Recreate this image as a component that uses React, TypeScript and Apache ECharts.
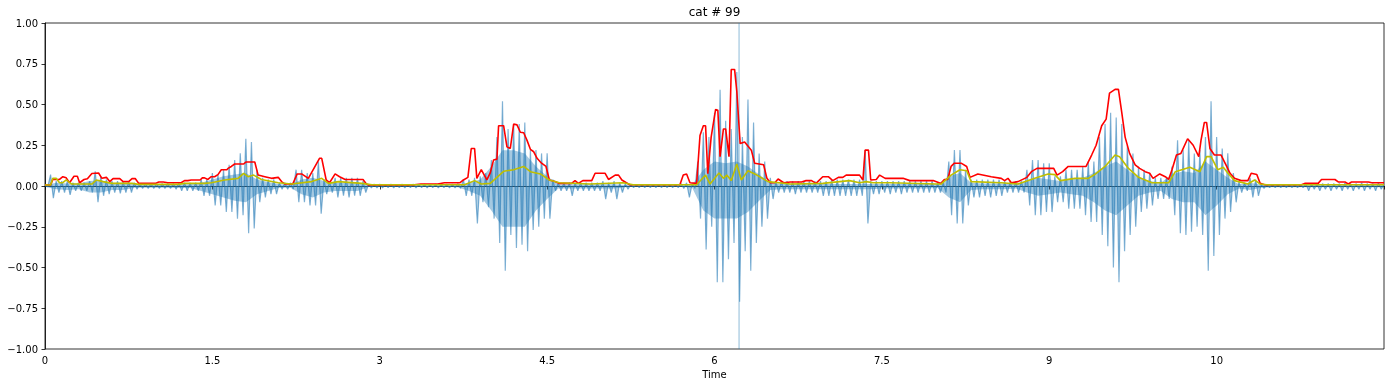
import React, { useEffect, useRef } from "react";
import * as echarts from "echarts";

const TITLE = "cat # 99";
const X_NAME = "Time";
const X_MIN = 0;
const X_MAX = 12;
const X_INTERVAL = 1.5;
const xTickLabels: Record<string, string> = {
  "0": "0", "1.5": "1.5", "3": "3", "4.5": "4.5", "6": "6", "7.5": "7.5", "9": "9", "10.5": "10", "12": "",
};
const Y_MIN = -1;
const Y_MAX = 1;
const Y_INTERVAL = 0.25;

// waveform peaks sampled every 0.05 s (upper / lower)
const WAVE_STEP = 0.05;
const waveHi = [
  0.005,0.07,0.03,0.03,0.03,0.02,0.02,0.02,0.03,0.09,0.06,0.04,0.03,0.03,0.03,0.03,0.02,0.015,0.015,0.015,
  0.015,0.015,0.015,0.015,0.02,0.02,0.02,0.02,0.04,0.04,0.08,0.07,0.1,0.13,0.16,0.2,0.29,0.27,0.1,0.05,
  0.04,0.04,0.02,0.02,0.02,0.1,0.1,0.08,0.08,0.15,0.04,0.03,0.05,0.05,0.05,0.05,0.05,0.03,0.012,0.012,
  0.012,0.01,0.012,0.01,0.012,0.01,0.012,0.01,0.012,0.01,0.012,0.01,0.012,0.012,0.015,0.04,0.04,0.05,0.06,0.08,
  0.16,0.3,0.52,0.35,0.38,0.38,0.39,0.22,0.22,0.2,0.2,0.04,0.02,0.02,0.02,0.02,0.02,0.02,0.02,0.02,
  0.03,0.02,0.03,0.02,0.015,0.01,0.01,0.01,0.01,0.01,0.01,0.01,0.01,0.01,0.015,0.02,0.015,0.15,0.33,0.3,
  0.45,0.59,0.4,0.35,0.7,0.3,0.53,0.39,0.2,0.15,0.05,0.03,0.03,0.03,0.03,0.03,0.03,0.03,0.03,0.03,
  0.03,0.04,0.04,0.04,0.04,0.04,0.04,0.22,0.03,0.03,0.03,0.03,0.03,0.03,0.03,0.03,0.03,0.03,0.03,0.03,
  0.02,0.02,0.15,0.22,0.22,0.1,0.04,0.04,0.04,0.04,0.04,0.04,0.03,0.03,0.03,0.03,0.1,0.16,0.16,0.14,
  0.14,0.06,0.06,0.1,0.1,0.1,0.12,0.15,0.15,0.3,0.38,0.45,0.42,0.38,0.25,0.2,0.12,0.1,0.08,0.05,
  0.05,0.05,0.12,0.28,0.22,0.28,0.2,0.22,0.3,0.52,0.3,0.23,0.2,0.08,0.03,0.02,0.05,0.04,0.01,0.01,
  0.01,0.01,0.01,0.01,0.01,0.01,0.015,0.015,0.015,0.015,0.015,0.015,0.015,0.02,0.015,0.015,0.02,0.015,0.015,0.02,
  0.01,
];
const waveLo = [
  -0.005,-0.075,-0.04,-0.04,-0.055,-0.03,-0.03,-0.03,-0.04,-0.1,-0.06,-0.05,-0.04,-0.045,-0.04,-0.04,-0.02,-0.015,-0.015,-0.015,
  -0.015,-0.015,-0.015,-0.02,-0.03,-0.03,-0.03,-0.03,-0.06,-0.06,-0.12,-0.12,-0.16,-0.16,-0.2,-0.18,-0.29,-0.26,-0.1,-0.07,
  -0.05,-0.05,-0.02,-0.02,-0.02,-0.1,-0.1,-0.12,-0.12,-0.17,-0.05,-0.04,-0.07,-0.06,-0.07,-0.06,-0.06,-0.04,-0.012,-0.012,
  -0.012,-0.01,-0.012,-0.01,-0.012,-0.01,-0.012,-0.01,-0.012,-0.01,-0.012,-0.01,-0.012,-0.012,-0.015,-0.06,-0.06,-0.23,-0.1,-0.13,
  -0.2,-0.35,-0.52,-0.3,-0.38,-0.36,-0.4,-0.27,-0.25,-0.2,-0.2,-0.03,-0.03,-0.03,-0.06,-0.03,-0.03,-0.03,-0.03,-0.03,
  -0.08,-0.04,-0.08,-0.04,-0.02,-0.01,-0.01,-0.01,-0.01,-0.01,-0.01,-0.01,-0.01,-0.01,-0.015,-0.07,-0.015,-0.2,-0.39,-0.25,
  -0.59,-0.59,-0.45,-0.35,-0.71,-0.4,-0.52,-0.35,-0.25,-0.2,-0.08,-0.04,-0.04,-0.04,-0.05,-0.04,-0.04,-0.04,-0.04,-0.06,
  -0.06,-0.06,-0.06,-0.06,-0.06,-0.06,-0.06,-0.23,-0.05,-0.05,-0.04,-0.05,-0.04,-0.05,-0.04,-0.04,-0.04,-0.04,-0.04,-0.04,
  -0.04,-0.04,-0.18,-0.23,-0.23,-0.12,-0.07,-0.07,-0.06,-0.07,-0.06,-0.06,-0.04,-0.04,-0.04,-0.04,-0.12,-0.18,-0.18,-0.16,
  -0.16,-0.1,-0.1,-0.14,-0.14,-0.14,-0.18,-0.22,-0.22,-0.3,-0.37,-0.5,-0.59,-0.4,-0.3,-0.25,-0.16,-0.14,-0.12,-0.08,
  -0.08,-0.08,-0.18,-0.29,-0.3,-0.28,-0.25,-0.3,-0.52,-0.43,-0.3,-0.2,-0.16,-0.1,-0.04,-0.03,-0.07,-0.06,-0.015,-0.01,
  -0.01,-0.01,-0.01,-0.01,-0.01,-0.01,-0.03,-0.02,-0.03,-0.02,-0.03,-0.02,-0.03,-0.02,-0.03,-0.02,-0.03,-0.02,-0.03,-0.02,
  -0.01,
];
// dense core of the waveform, sampled every 0.1 s (upper / lower)
const CORE_STEP = 0.1;
const coreHi = [
  0.005,0.02,0.015,0.015,0.03,0.035,0.02,0.02,0.01,0.008,
  0.008,0.008,0.01,0.01,0.02,0.04,0.06,0.07,0.08,0.04,
  0.025,0.01,0.008,0.04,0.05,0.03,0.02,0.02,0.02,0.006,
  0.005,0.005,0.005,0.005,0.005,0.005,0.005,0.006,0.02,0.04,
  0.12,0.22,0.22,0.2,0.12,0.06,0.01,0.01,0.01,0.01,
  0.01,0.01,0.006,0.005,0.005,0.005,0.005,0.005,0.008,0.1,
  0.15,0.14,0.15,0.12,0.07,0.02,0.012,0.012,0.012,0.012,
  0.012,0.012,0.012,0.012,0.012,0.012,0.012,0.012,0.012,0.012,
  0.01,0.06,0.08,0.02,0.015,0.015,0.015,0.012,0.03,0.05,
  0.04,0.03,0.04,0.05,0.08,0.12,0.15,0.1,0.05,0.03,
  0.02,0.07,0.09,0.08,0.15,0.1,0.05,0.01,0.02,0.008,
  0.006,0.006,0.006,0.006,0.006,0.006,0.006,0.006,0.006,0.006,
  0.006,
];
const coreLo = [
  -0.005,-0.02,-0.025,-0.02,-0.04,-0.04,-0.025,-0.025,-0.01,-0.01,
  -0.01,-0.01,-0.012,-0.012,-0.03,-0.05,-0.07,-0.09,-0.1,-0.05,
  -0.03,-0.01,-0.01,-0.05,-0.07,-0.04,-0.03,-0.03,-0.03,-0.006,
  -0.006,-0.006,-0.006,-0.006,-0.006,-0.006,-0.006,-0.008,-0.03,-0.06,
  -0.15,-0.25,-0.25,-0.25,-0.15,-0.08,-0.015,-0.015,-0.015,-0.015,
  -0.015,-0.015,-0.008,-0.005,-0.005,-0.005,-0.005,-0.005,-0.01,-0.15,
  -0.2,-0.2,-0.2,-0.16,-0.09,-0.025,-0.02,-0.02,-0.02,-0.02,
  -0.02,-0.02,-0.02,-0.02,-0.02,-0.015,-0.015,-0.015,-0.015,-0.015,
  -0.012,-0.07,-0.1,-0.025,-0.02,-0.02,-0.02,-0.015,-0.04,-0.06,
  -0.05,-0.04,-0.05,-0.06,-0.1,-0.15,-0.18,-0.12,-0.06,-0.04,
  -0.03,-0.08,-0.1,-0.1,-0.18,-0.12,-0.05,-0.015,-0.025,-0.01,
  -0.008,-0.008,-0.008,-0.008,-0.008,-0.008,-0.008,-0.008,-0.008,-0.008,
  -0.008,
];
// single clipped click at ~6.22 s
const clickSpike = [[6.22, -1], [6.22, 1]];

// amplitude envelope (red) [time, value]
const envelopePoints = [
  [0,0.006],[0.05,0.006],[0.07,0.04],[0.13,0.04],[0.16,0.057],[0.19,0.05],[0.22,0.02],[0.26,0.06],[0.29,0.06],[0.31,0.02],
  [0.35,0.04],[0.38,0.045],[0.42,0.077],[0.48,0.08],[0.51,0.047],[0.55,0.053],[0.58,0.027],[0.61,0.045],[0.67,0.045],[0.7,0.027],
  [0.75,0.027],[0.78,0.045],[0.81,0.045],[0.84,0.016],[0.99,0.016],[1.02,0.025],[1.06,0.025],[1.1,0.02],[1.22,0.02],[1.25,0.033],
  [1.28,0.033],[1.31,0.037],[1.39,0.037],[1.41,0.05],[1.43,0.05],[1.46,0.04],[1.49,0.057],[1.52,0.057],[1.55,0.07],[1.58,0.1],
  [1.63,0.1],[1.64,0.108],[1.67,0.12],[1.7,0.135],[1.78,0.135],[1.8,0.147],[1.88,0.147],[1.91,0.067],[1.97,0.057],[2.03,0.047],
  [2.09,0.053],[2.12,0.027],[2.15,0.012],[2.22,0.012],[2.26,0.074],[2.3,0.074],[2.36,0.047],[2.46,0.17],[2.48,0.17],[2.52,0.037],
  [2.55,0.02],[2.6,0.074],[2.64,0.057],[2.69,0.04],[2.85,0.04],[2.88,0.012],[2.9,0.006],[3.29,0.006],[3.37,0.012],[3.52,0.012],
  [3.58,0.02],[3.72,0.02],[3.75,0.037],[3.79,0.053],[3.82,0.23],[3.85,0.23],[3.87,0.047],[3.91,0.1],[3.96,0.037],[3.99,0.08],
  [4.02,0.16],[4.05,0.165],[4.065,0.37],[4.11,0.37],[4.14,0.24],[4.17,0.23],[4.2,0.38],[4.23,0.375],[4.26,0.33],[4.29,0.327],
  [4.32,0.28],[4.35,0.225],[4.38,0.21],[4.41,0.17],[4.45,0.14],[4.49,0.12],[4.52,0.037],[4.57,0.027],[4.61,0.016],[4.72,0.016],
  [4.75,0.033],[4.78,0.016],[4.82,0.033],[4.9,0.033],[4.93,0.078],[5.02,0.078],[5.05,0.04],[5.11,0.067],[5.14,0.067],[5.17,0.037],
  [5.21,0.02],[5.24,0.008],[5.69,0.008],[5.72,0.067],[5.75,0.074],[5.78,0.02],[5.84,0.016],[5.87,0.31],[5.9,0.37],[5.92,0.37],
  [5.94,0.075],[5.97,0.3],[6.01,0.47],[6.03,0.465],[6.05,0.18],[6.08,0.35],[6.1,0.35],[6.13,0.18],[6.15,0.715],[6.18,0.715],
  [6.2,0.58],[6.23,0.26],[6.27,0.27],[6.33,0.22],[6.36,0.14],[6.44,0.13],[6.47,0.047],[6.5,0.02],[6.54,0.02],[6.57,0.043],
  [6.62,0.02],[6.68,0.025],[6.78,0.025],[6.82,0.033],[6.87,0.033],[6.91,0.016],[6.97,0.057],[7.02,0.057],[7.06,0.033],[7.11,0.053],
  [7.15,0.053],[7.18,0.067],[7.3,0.067],[7.33,0.037],[7.35,0.22],[7.38,0.22],[7.4,0.037],[7.45,0.04],[7.48,0.067],[7.53,0.047],
  [7.69,0.047],[7.75,0.033],[7.96,0.033],[8.03,0.016],[8.06,0.04],[8.09,0.04],[8.12,0.12],[8.15,0.14],[8.21,0.14],[8.26,0.12],
  [8.29,0.053],[8.36,0.074],[8.48,0.057],[8.57,0.047],[8.6,0.033],[8.63,0.047],[8.66,0.02],[8.72,0.027],[8.8,0.053],[8.84,0.088],
  [8.89,0.108],[9.04,0.108],[9.07,0.067],[9.12,0.088],[9.17,0.12],[9.33,0.12],[9.38,0.19],[9.42,0.25],[9.47,0.37],[9.51,0.41],
  [9.54,0.57],[9.59,0.593],[9.62,0.593],[9.65,0.45],[9.68,0.3],[9.72,0.2],[9.77,0.13],[9.81,0.108],[9.86,0.088],[9.9,0.078],
  [9.93,0.047],[9.99,0.074],[10.04,0.057],[10.07,0.04],[10.1,0.1],[10.14,0.19],[10.18,0.2],[10.24,0.29],[10.29,0.25],[10.34,0.18],
  [10.36,0.28],[10.39,0.39],[10.41,0.39],[10.44,0.23],[10.48,0.19],[10.54,0.19],[10.59,0.12],[10.62,0.078],[10.66,0.047],[10.72,0.033],
  [10.78,0.033],[10.81,0.078],[10.86,0.07],[10.89,0.016],[10.93,0.008],[11.26,0.008],[11.29,0.016],[11.41,0.016],[11.44,0.04],[11.56,0.04],
  [11.59,0.025],[11.65,0.025],[11.68,0.012],[11.71,0.025],[11.86,0.025],[11.89,0.02],[12.0,0.02],
];

// RMS energy (yellow) [time, value]
const rmsPoints = [
  [0,0.006],[0.05,0.006],[0.07,0.047],[0.1,0.047],[0.13,0.02],[0.16,0.02],[0.19,0.037],[0.24,0.012],[0.42,0.012],[0.46,0.037],
  [0.52,0.027],[0.6,0.016],[0.78,0.016],[0.84,0.01],[1.19,0.01],[1.25,0.016],[1.43,0.016],[1.49,0.02],[1.61,0.037],[1.73,0.047],
  [1.78,0.078],[1.82,0.057],[1.87,0.067],[1.94,0.04],[2.09,0.02],[2.21,0.012],[2.39,0.027],[2.48,0.047],[2.54,0.016],[2.63,0.027],
  [2.84,0.016],[2.93,0.008],[3.76,0.008],[3.85,0.033],[3.91,0.012],[3.99,0.016],[4.11,0.09],[4.2,0.1],[4.29,0.12],[4.35,0.088],
  [4.44,0.074],[4.52,0.037],[4.61,0.02],[4.88,0.012],[5.18,0.02],[5.27,0.008],[5.84,0.008],[5.92,0.067],[5.96,0.012],[6.04,0.08],
  [6.08,0.047],[6.11,0.067],[6.15,0.033],[6.2,0.135],[6.24,0.037],[6.3,0.094],[6.38,0.067],[6.48,0.027],[6.68,0.012],[6.97,0.016],
  [7.21,0.033],[7.3,0.02],[7.36,0.027],[7.42,0.02],[7.57,0.02],[7.99,0.012],[8.03,0.012],[8.12,0.067],[8.2,0.1],[8.26,0.094],
  [8.3,0.027],[8.57,0.02],[8.72,0.012],[8.87,0.047],[8.99,0.074],[9.05,0.07],[9.1,0.033],[9.23,0.047],[9.35,0.047],[9.41,0.072],
  [9.5,0.12],[9.59,0.19],[9.63,0.18],[9.71,0.108],[9.8,0.053],[9.92,0.02],[10.07,0.02],[10.13,0.088],[10.26,0.115],[10.35,0.088],
  [10.41,0.18],[10.45,0.18],[10.51,0.1],[10.56,0.115],[10.6,0.08],[10.66,0.033],[10.78,0.012],[10.84,0.037],[10.89,0.012],[10.95,0.008],
  [12.0,0.008],
];

const FONT = "DejaVu Sans";
const WAVE_COLOR = "#1f77b4";

export default function App() {
  const ref = useRef<HTMLDivElement>(null);
  useEffect(() => {
    if (!ref.current) return;
    const chart = echarts.init(ref.current, null, { renderer: "svg" });
    const wave: number[][] = [];
    waveHi.forEach((h, i) => {
      const t = i * WAVE_STEP;
      wave.push([t, h]);
      const t2 = t + WAVE_STEP / 2;
      if (t2 <= X_MAX) wave.push([t2, waveLo[i]]);
    });
    const coreTop = coreHi.map((v, i) => [i * CORE_STEP, v]);
    const coreBottom = coreLo.map((v, i) => [i * CORE_STEP, v]);
    chart.setOption({
      animation: false,
      grid: {
        left: 45, right: 7, top: 23, bottom: 38,
        show: true, borderColor: "#000", borderWidth: 0.8, backgroundColor: "transparent",
      },
      graphic: [
        {
          type: "text", x: 714.5, y: 12,
          style: { text: TITLE, textAlign: "center", textVerticalAlign: "middle", font: `12px "${FONT}"`, fill: "#000" },
        },
      ],
      xAxis: {
        type: "value", min: X_MIN, max: X_MAX, interval: X_INTERVAL,
        name: X_NAME, nameLocation: "middle", nameGap: 20,
        nameTextStyle: { fontFamily: FONT, fontSize: 10, color: "#000" },
        axisLine: { show: true, lineStyle: { color: "#000", width: 0.8 } },
        axisTick: { show: true, length: 3.5, lineStyle: { color: "#000", width: 0.8 } },
        axisLabel: {
          fontFamily: FONT, fontSize: 10, color: "#000", margin: 6,
          formatter: (v: number) => xTickLabels[String(v)] ?? "",
        },
        splitLine: { show: false },
      },
      yAxis: {
        type: "value", min: Y_MIN, max: Y_MAX, interval: Y_INTERVAL,
        axisLine: { show: true, lineStyle: { color: "#000", width: 0.8 } },
        axisTick: { show: true, length: 3.5, lineStyle: { color: "#000", width: 0.8 } },
        axisLabel: {
          fontFamily: FONT, fontSize: 10, color: "#000", margin: 7,
          formatter: (v: number) => v.toFixed(2).replace("-", "\u2212"),
        },
        splitLine: { show: false },
      },
      series: [
        {
          type: "line", data: coreTop, symbol: "none", z: 1,
          lineStyle: { width: 0 },
          areaStyle: { color: WAVE_COLOR, opacity: 0.4, origin: 0 },
        },
        {
          type: "line", data: coreBottom, symbol: "none", z: 1,
          lineStyle: { width: 0 },
          areaStyle: { color: WAVE_COLOR, opacity: 0.4, origin: 0 },
        },
        {
          type: "line", data: wave, symbol: "none", z: 1,
          lineStyle: { color: WAVE_COLOR, width: 1.2, opacity: 0.55 },
          areaStyle: { color: WAVE_COLOR, opacity: 0.35, origin: 0 },
        },
        {
          type: "line", data: clickSpike, symbol: "none", z: 1,
          lineStyle: { color: WAVE_COLOR, width: 1, opacity: 0.5 },
        },
        {
          type: "line", data: envelopePoints, symbol: "none", z: 2,
          lineStyle: { color: "#ff0000", width: 1.6 },
        },
        {
          type: "line", data: rmsPoints, symbol: "none", z: 3,
          lineStyle: { color: "#bfbf00", width: 1.6 },
        },
      ],
    });
    return () => chart.dispose();
  }, []);
  return <div ref={ref} style={{ position: "fixed", left: 0, top: 0, width: 1391, height: 387 }} />;
}
